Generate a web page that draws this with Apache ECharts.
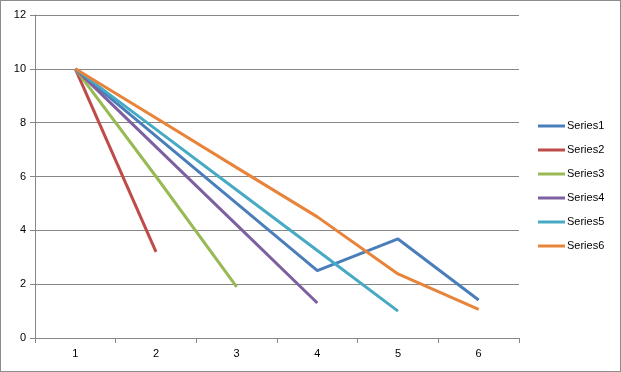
<!DOCTYPE html>
<html><head><meta charset="utf-8">
<script src="https://cdn.jsdelivr.net/npm/echarts@6/dist/echarts.min.js"></script>
<style>
html,body{margin:0;padding:0;background:#fff;}
#c{width:619px;height:370px;border:1px solid #8c8c8c;}
</style></head>
<body><div id="c"></div>
<script>
var categories = ['1','2','3','4','5','6'];
var seriesNames = ['Series1','Series2','Series3','Series4','Series5','Series6'];
var series1 = [10, 7.5, 5.0, 2.5, 3.68, 1.41];
var series2 = [10, 3.2];
var series3 = [10, 6.0, 1.9];
var series4 = [10, 7.1, 4.2, 1.3];
var series5 = [10, 7.75, 5.5, 3.25, 1.0];
var series6 = [10, 8.17, 6.33, 4.5, 2.38, 1.06];
var yTicks = [0, 2, 4, 6, 8, 10, 12];
var colors = ['#4A7EBB','#BE4B48','#98B954','#7D60A0','#46AAC5','#E8843A'];
var allData = [series1, series2, series3, series4, series5, series6];

var chart = echarts.init(document.getElementById('c'));
var font = 'Liberation Sans';
chart.setOption({
  animation: false,
  color: colors,
  grid: {left: 34, right: 101, top: 14, bottom: 33},
  xAxis: {
    type: 'category', data: categories, boundaryGap: true,
    axisLine: {lineStyle: {color: '#868686', width: 1}},
    axisTick: {show: true, length: 5, lineStyle: {color: '#868686'}},
    axisLabel: {color: '#000', fontFamily: font, fontSize: 11, margin: 10}
  },
  yAxis: {
    type: 'value', min: yTicks[0], max: yTicks[yTicks.length-1], interval: 2,
    axisLine: {show: true, lineStyle: {color: '#868686', width: 1}},
    axisTick: {show: true, length: 5, lineStyle: {color: '#868686'}},
    axisLabel: {color: '#000', fontFamily: font, fontSize: 11, margin: 9},
    splitLine: {lineStyle: {color: '#868686', width: 1}}
  },
  legend: {
    orient: 'vertical', left: 537, top: 118, padding: 0,
    itemWidth: 27, itemHeight: 3, itemGap: 10, icon: 'rect',
    textStyle: {fontFamily: font, fontSize: 11, color: '#000', lineHeight: 14, padding: [0,0,0,-3]},
    data: seriesNames
  },
  series: allData.map(function(d, i){
    return {
      name: seriesNames[i], type: 'line', data: d, symbol: 'none',
      lineStyle: {width: 3, color: colors[i]}, itemStyle: {color: colors[i]}
    };
  })
});
</script></body></html>
